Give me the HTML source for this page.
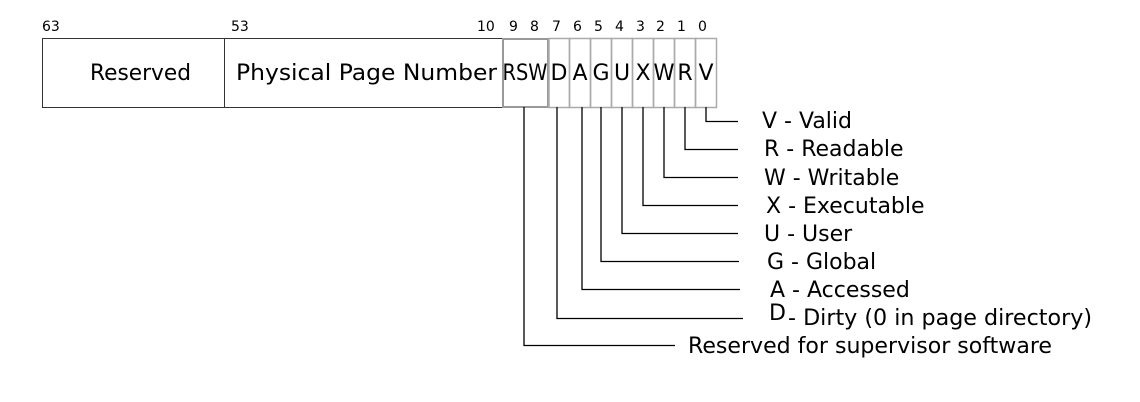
<!DOCTYPE html>
<html><head><meta charset="utf-8"><style>
html,body{margin:0;padding:0;background:#fff;}
svg{display:block;}
text{font-family:"DejaVu Sans","Liberation Sans",sans-serif;fill:#000;}
</style></head><body>
<svg width="1140" height="402" viewBox="0 0 1140 402" xmlns="http://www.w3.org/2000/svg">
<g font-size="14">
<text x="42" y="31">63</text>
<text x="231" y="31">53</text>
<text x="477" y="31">10</text>
<text x="509" y="31">9</text>
<text x="530" y="31">8</text>
<text x="552" y="31">7</text>
<text x="573" y="31">6</text>
<text x="594" y="31">5</text>
<text x="615" y="31">4</text>
<text x="636" y="31">3</text>
<text x="656" y="31">2</text>
<text x="677" y="31">1</text>
<text x="698" y="31">0</text>
</g>
<rect x="42.5" y="38.5" width="182" height="69" fill="none" stroke="#333" stroke-width="1"/>
<rect x="224.5" y="38.5" width="278" height="69" fill="none" stroke="#333" stroke-width="1"/>
<rect x="503" y="39" width="45" height="68" fill="none" stroke="#999" stroke-width="2"/>
<g fill="none" stroke="#aaa" stroke-width="1.5">
<rect x="549" y="38.5" width="20.5" height="69"/>
<rect x="569.5" y="38.5" width="21" height="69"/>
<rect x="590.5" y="38.5" width="21" height="69"/>
<rect x="611.5" y="38.5" width="21" height="69"/>
<rect x="632.5" y="38.5" width="21" height="69"/>
<rect x="653.5" y="38.5" width="21" height="69"/>
<rect x="674.5" y="38.5" width="21" height="69"/>
<rect x="695.5" y="38.5" width="21" height="69"/>
</g>
<g font-size="22">
<text x="90" y="80" textLength="101" lengthAdjust="spacingAndGlyphs">Reserved</text>
<text x="236" y="80" textLength="261" lengthAdjust="spacingAndGlyphs">Physical Page Number</text>
<text x="525" y="80" text-anchor="middle" textLength="45" lengthAdjust="spacingAndGlyphs">RSW</text>
<text x="559" y="80" text-anchor="middle">D</text>
<text x="580" y="80" text-anchor="middle">A</text>
<text x="601" y="80" text-anchor="middle">G</text>
<text x="622" y="80" text-anchor="middle">U</text>
<text x="643" y="80" text-anchor="middle">X</text>
<text x="664" y="80" text-anchor="middle" textLength="21" lengthAdjust="spacingAndGlyphs">W</text>
<text x="685" y="80" text-anchor="middle">R</text>
<text x="706" y="80" text-anchor="middle">V</text>
</g>
<g fill="none" stroke="#000" stroke-width="1.3">
<polyline points="706,107 706,121.5 738,121.5"/>
<polyline points="685,107 685,149.5 738,149.5"/>
<polyline points="664,107 664,177.5 738,177.5"/>
<polyline points="643,107 643,205.5 738,205.5"/>
<polyline points="622,107 622,233.5 738,233.5"/>
<polyline points="601,107 601,261.5 739,261.5"/>
<polyline points="582,107 582,289.5 740,289.5"/>
<polyline points="557,107 557,318.5 743,318.5"/>
<polyline points="524,107 524,345.5 675,345.5"/>
</g>
<g font-size="22">
<text x="762" y="128">V - Valid</text>
<text x="764" y="156">R  - Readable</text>
<text x="764" y="185">W - Writable</text>
<text x="766" y="213">X - Executable</text>
<text x="764" y="241">U - User</text>
<text x="767" y="269">G - Global</text>
<text x="770" y="297">A - Accessed</text>
<text x="769" y="320">D</text>
<text x="788" y="325" textLength="304" lengthAdjust="spacingAndGlyphs">- Dirty (0 in page directory)</text>
<text x="688" y="353" textLength="364" lengthAdjust="spacingAndGlyphs">Reserved for supervisor software</text>
</g>
</svg>
</body></html>
